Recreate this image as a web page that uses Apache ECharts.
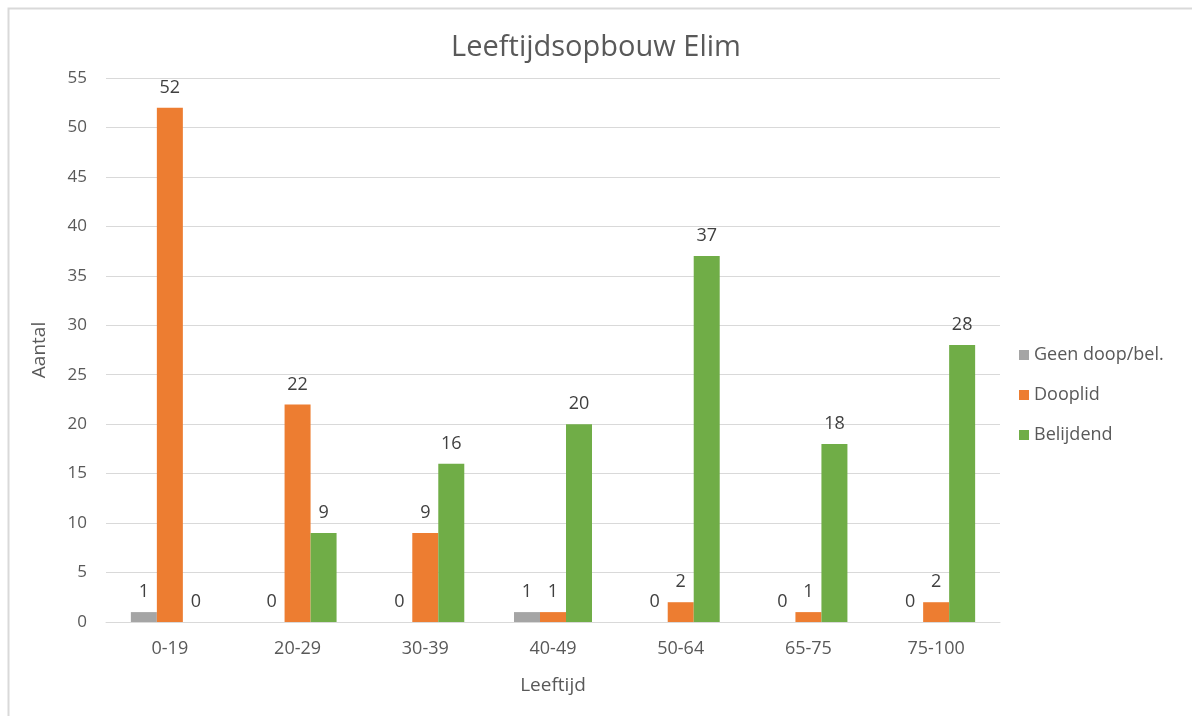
<!DOCTYPE html>
<html>
<head>
<meta charset="utf-8">
<script src="https://cdn.jsdelivr.net/npm/echarts@6/dist/echarts.min.js"></script>
<style>
html, body { margin: 0; padding: 0; background: #fff; }
#chart { width: 1192px; height: 716px; }
</style>
</head>
<body>
<div id="chart"></div>
<script>
var categories = ['0-19', '20-29', '30-39', '40-49', '50-64', '65-75', '75-100'];
var seriesNames = ['Geen doop/bel.', 'Dooplid', 'Belijdend'];
var geenDoop = [1, 0, 0, 1, 0, 0, 0];
var dooplid = [52, 22, 9, 1, 2, 1, 2];
var belijdend = [0, 9, 16, 20, 37, 18, 28];
var colors = ['#A5A5A5', '#ED7D31', '#70AD47'];

var font = '"Open Sans", Lato, sans-serif';
var ech = echarts.init(document.getElementById('chart'));

function makeSeries(name, data, color) {
    return {
        name: name,
        type: 'bar',
        data: data,
        barWidth: 26,
        barGap: '0%',
        itemStyle: { color: color },
        label: {
            show: true,
            position: 'top',
            distance: 11,
            fontFamily: font,
            fontSize: 18,
            color: '#404040'
        }
    };
}

var option = {
    animation: false,
    textStyle: { fontFamily: font },
    graphic: [{
        type: 'rect',
        shape: { x: 8.5, y: 8.5, width: 1200, height: 720 },
        style: { fill: 'none', stroke: '#D9D9D9', lineWidth: 2 },
        silent: true
    }],
    title: {
        text: 'Leeftijdsopbouw Elim',
        left: 'center',
        top: 28,
        textStyle: { fontFamily: font, fontSize: 29, fontWeight: 'normal', color: '#595959' }
    },
    legend: {
        orient: 'vertical',
        left: 1014,
        top: 341,
        itemWidth: 10,
        itemHeight: 10,
        itemGap: 22,
        icon: 'rect',
        data: seriesNames,
        textStyle: { fontFamily: font, fontSize: 18, color: '#595959' }
    },
    grid: { left: 106, right: 192, top: 78, bottom: 94 },
    xAxis: {
        type: 'category',
        data: categories,
        name: 'Leeftijd',
        nameLocation: 'middle',
        nameGap: 54,
        nameTextStyle: { fontFamily: font, fontSize: 19, color: '#595959' },
        axisTick: { show: false },
        axisLine: { lineStyle: { color: '#D9D9D9', width: 1 } },
        axisLabel: { fontFamily: font, fontSize: 18, color: '#595959', margin: 18 }
    },
    yAxis: {
        type: 'value',
        min: 0,
        max: 55,
        interval: 5,
        name: 'Aantal',
        nameLocation: 'middle',
        nameGap: 57,
        nameTextStyle: { fontFamily: font, fontSize: 19, color: '#595959' },
        axisLine: { show: false },
        axisTick: { show: false },
        splitLine: { lineStyle: { color: '#D9D9D9', width: 1 } },
        axisLabel: { fontFamily: font, fontSize: 17, color: '#595959', margin: 19 }
    },
    series: [
        makeSeries(seriesNames[0], geenDoop, colors[0]),
        makeSeries(seriesNames[1], dooplid, colors[1]),
        makeSeries(seriesNames[2], belijdend, colors[2])
    ]
};
ech.setOption(option);
</script>
</body>
</html>
